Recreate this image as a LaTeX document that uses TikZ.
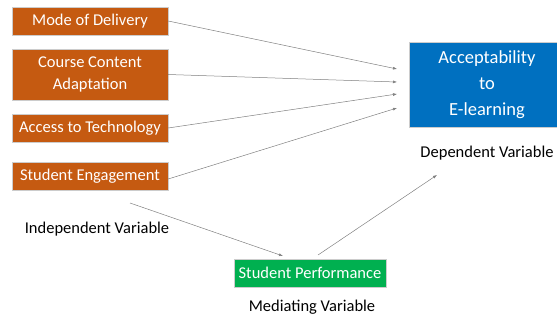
\documentclass[tikz,border=0pt]{standalone}
\usepackage{fontspec}
\setmainfont{Carlito}
\usepackage{tikz}
\usetikzlibrary{positioning, arrows.meta}
\usepackage{xcolor}
\definecolor{indep}{HTML}{C55A11}
\definecolor{dep}{HTML}{0070C0}
\definecolor{medi}{HTML}{00B050}

\begin{document}
\begin{tikzpicture}[x=1pt, y=-1pt,
    var/.style={rectangle, draw=gray!40, fill=indep, text=white, font=\fontsize{16.5}{22}\selectfont, align=center, minimum width=156pt, minimum height=28pt, inner sep=2pt},
    caption/.style={font=\fontsize{16.5}{20}\selectfont, text=black},
    link/.style={draw=gray, line width=0.5pt, -{Latex[length=4pt, width=3pt]}}]

\useasboundingbox (0,0) rectangle (557,320);

% Independent variables
\node[var] (mode) at (90,21) {Mode of Delivery};
\node[var, minimum height=51pt] (content) at (90,74.5) {Course Content\\Adaptation};
\node[var] (access) at (90,128) {Access to Technology};
\node[var] (engage) at (90,176) {Student Engagement};
\node[caption] (indlabel) at (97,229) {Independent Variable};

% Dependent variable
\node[var, fill=dep, minimum width=156pt, minimum height=85pt, font=\fontsize{18.5}{26}\selectfont] (accept) at (487,84.5) {Acceptability\\to\\E-learning};
\node[caption] (deplabel) at (487,153) {Dependent Variable};

% Mediating variable
\node[var, fill=medi, minimum width=152pt] (perf) at (310,273) {Student Performance};
\node[caption] (medlabel) at (312,307) {Mediating Variable};

% Arrow ends
\coordinate (in1) at (397,69);
\coordinate (in2) at (397,82);
\coordinate (in3) at (397,94);
\coordinate (in4) at (397,108);
\coordinate (out1) at (130,203);
\coordinate (in5) at (283,256);
\coordinate (out2) at (318,255);
\coordinate (in6) at (437,175);

\draw[link] (mode.east) -- (in1);
\draw[link] (content.east) -- (in2);
\draw[link] (access.east) -- (in3);
\draw[link] ([yshift=-3pt]engage.east) -- (in4);
\draw[link] (out1) -- (in5);
\draw[link] (out2) -- (in6);

\end{tikzpicture}
\end{document}
